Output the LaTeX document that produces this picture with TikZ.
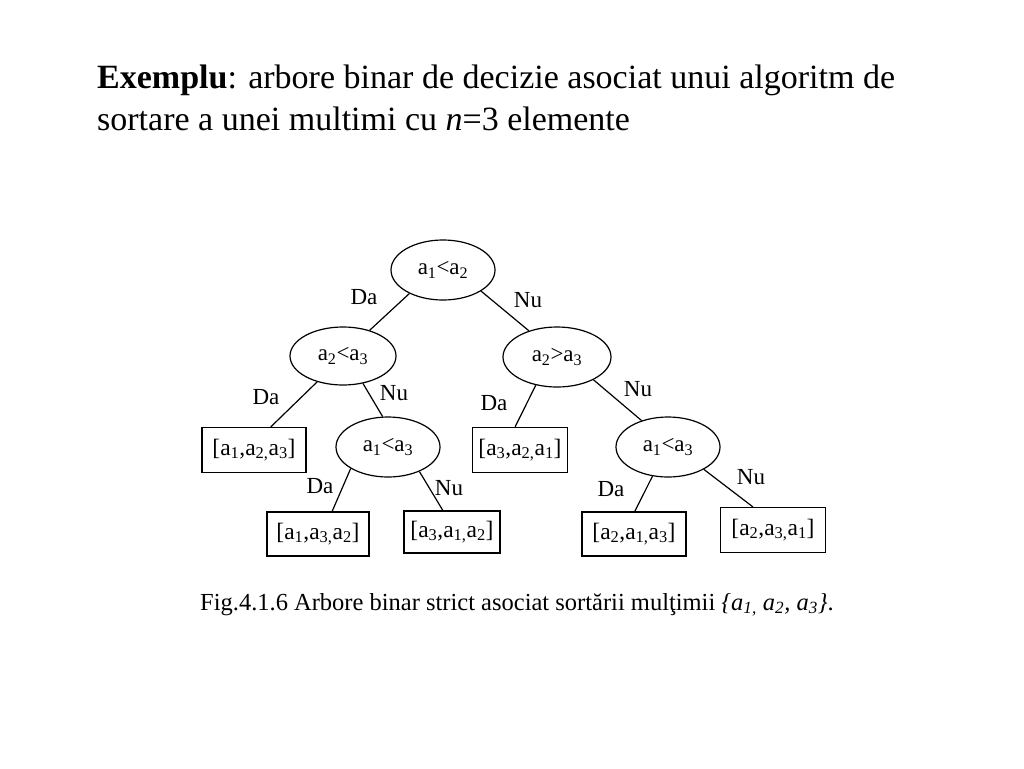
\documentclass[tikz,border=0pt]{standalone}
\usepackage{fontspec}
\setmainfont{Liberation Serif}
\usetikzlibrary{shapes.geometric}
\newcommand{\sbs}[1]{\textsubscript{#1}}
\tikzset{
  dec/.style={draw, ellipse, line width=1.2pt, minimum width=104pt, minimum height=60pt, inner sep=0pt, font=\fontsize{23}{26}\selectfont},
  leaf/.style={draw, rectangle, line width=1.2pt, minimum width=102pt, minimum height=44pt, inner sep=0pt, font=\fontsize{23.5}{26}\selectfont},
  lab/.style={font=\fontsize{23}{26}\selectfont, inner sep=0pt},
  edge/.style={line width=1.2pt}
}
\begin{document}
\begin{tikzpicture}[x=1pt,y=-1pt]
\useasboundingbox (0,0) rectangle (1024,768);
% title
\node[anchor=base west, inner sep=0pt, font=\fontsize{34}{40}\selectfont] (t1) at (97,88) {\textbf{Exemplu}: arbore binar de decizie asociat unui algoritm de};
\node[anchor=base west, inner sep=0pt, font=\fontsize{34}{40}\selectfont] (t2) at (97,130) {sortare a unei multimi cu \textit{n}=3 elemente};
% decision nodes
\node[dec] (r) at (443,270) {a\sbs{1}<a\sbs{2}};
\node[dec, minimum width=106pt, minimum height=58pt] (l) at (343,356) {a\sbs{2}<a\sbs{3}};
\node[dec, minimum width=108pt] (rr) at (557,357) {a\sbs{2}>a\sbs{3}};
\node[dec] (lr) at (388,447) {a\sbs{1}<a\sbs{3}};
\node[dec] (rrr) at (668,447) {a\sbs{1}<a\sbs{3}};
% leaves
\node[leaf, minimum width=104pt, minimum height=45pt] (b1) at (254,450) {[a\sbs{1},a\sbs{2,}a\sbs{3}]};
\node[leaf, minimum width=95pt, minimum height=45pt] (b2) at (520,450) {[a\sbs{3},a\sbs{2,}a\sbs{1}]};
\node[leaf, minimum width=102pt, minimum height=44pt] (b3) at (318,534) {[a\sbs{1},a\sbs{3,}a\sbs{2}]};
\node[leaf, minimum width=96pt, minimum height=42pt] (b4) at (452,532) {[a\sbs{3},a\sbs{1,}a\sbs{2}]};
\node[leaf, minimum width=104pt, minimum height=44pt] (b5) at (634,534) {[a\sbs{2},a\sbs{1,}a\sbs{3}]};
\node[leaf, minimum width=105pt, minimum height=45pt] (b6) at (773,530) {[a\sbs{2},a\sbs{3,}a\sbs{1}]};
% edges
\draw[edge] (r.215) -- (l.44);
\draw[edge] (r.-29) -- (rr.137);
\draw[edge] (l.225) -- (b1.54);
\draw[edge] (l.-54) -- (lr.100);
\draw[edge] (rr.233) -- (b2.102);
\draw[edge] (rr.-32) -- (rrr.135);
\draw[edge] (lr.210) -- (b3.58);
\draw[edge] (lr.-38) -- (b4.113);
\draw[edge] (rrr.242) -- (b5.88);
\draw[edge] (rrr.-32) -- (b6.131);
% labels
\node[lab] (d1) at (364,297) {Da};
\node[lab] (n1) at (528,300) {Nu};
\node[lab] (d2) at (266,397) {Da};
\node[lab] (n2) at (394,393) {Nu};
\node[lab] (d3) at (494,403) {Da};
\node[lab] (n3) at (638,389) {Nu};
\node[lab] (d4) at (320,486) {Da};
\node[lab] (n4) at (449,488) {Nu};
\node[lab] (d5) at (611,489) {Da};
\node[lab] (n5) at (751,477) {Nu};
% caption
\node[anchor=base west, inner sep=0pt, font=\fontsize{24.5}{28}\selectfont] (cap) at (200,610) {Fig.4.1.6 Arbore binar strict asociat sortării mulţimii \textit{\{a\sbs{1,} a\sbs{2}, a\sbs{3}\}}.};
\end{tikzpicture}
\end{document}
